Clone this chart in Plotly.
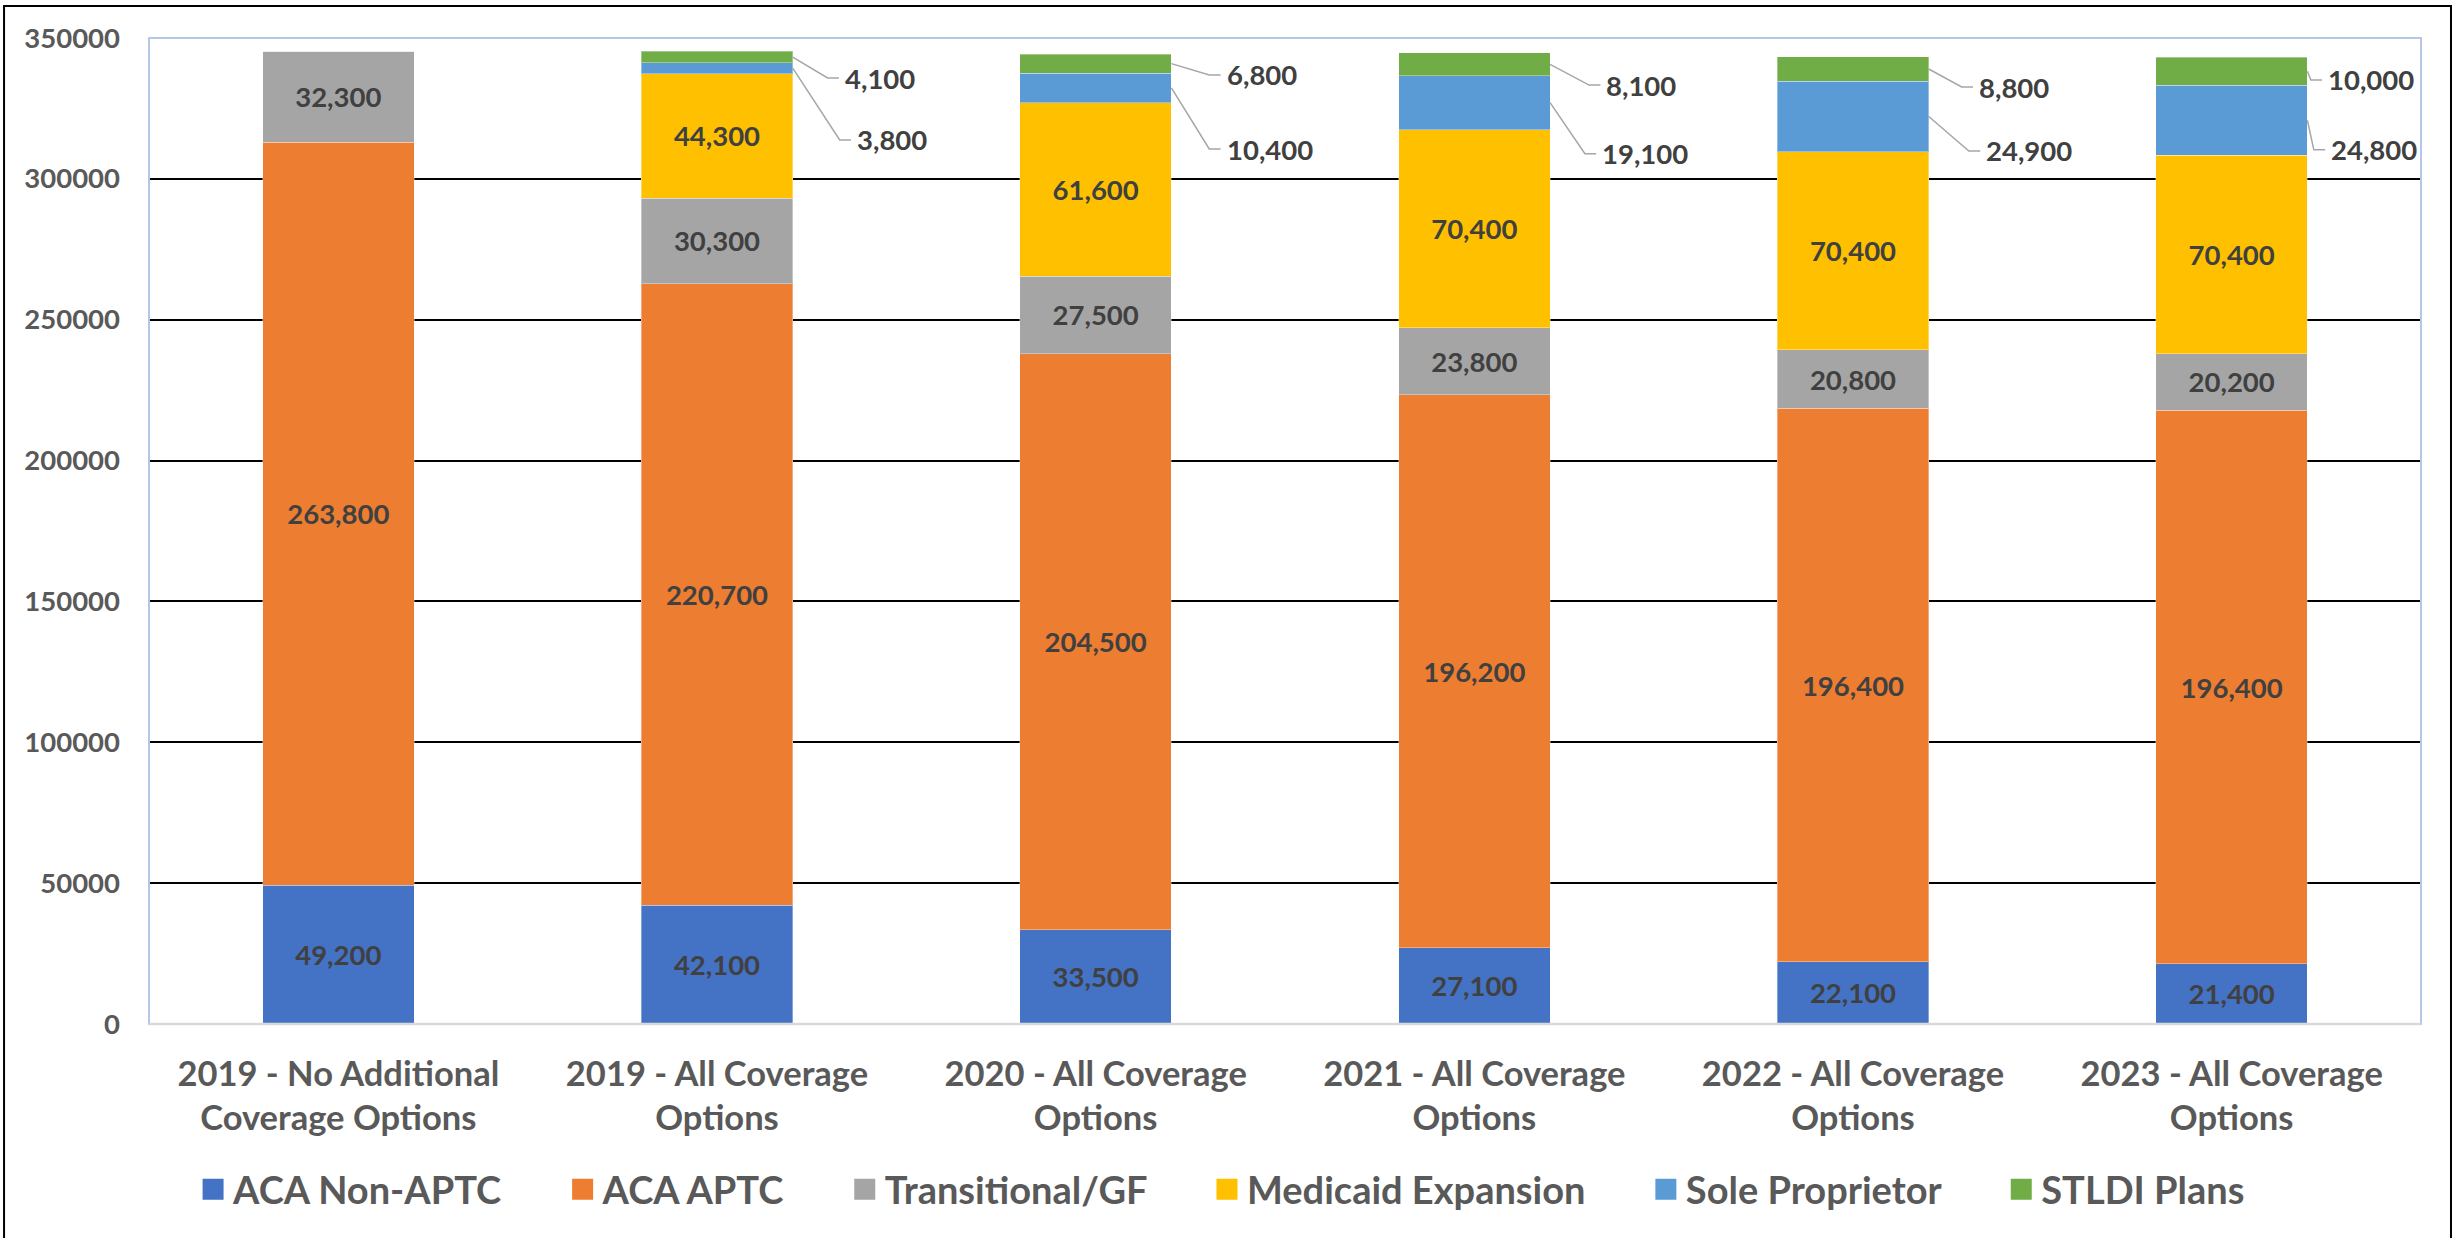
import plotly.graph_objects as go

# ---- data -------------------------------------------------------------
categories = [
    "2019 - No Additional<br>Coverage Options",
    "2019 - All Coverage<br>Options",
    "2020 - All Coverage<br>Options",
    "2021 - All Coverage<br>Options",
    "2022 - All Coverage<br>Options",
    "2023 - All Coverage<br>Options",
]
aca_non_aptc = [49200, 42100, 33500, 27100, 22100, 21400]
aca_aptc = [263800, 220700, 204500, 196200, 196400, 196400]
transitional_gf = [32300, 30300, 27500, 23800, 20800, 20200]
medicaid_expansion = [0, 44300, 61600, 70400, 70400, 70400]
sole_proprietor = [0, 3800, 10400, 19100, 24900, 24800]
stldi_plans = [0, 4100, 6800, 8100, 8800, 10000]
y_ticks = [0, 50000, 100000, 150000, 200000, 250000, 300000, 350000]

series_names = ["ACA Non-APTC", "ACA APTC", "Transitional/GF",
                "Medicaid Expansion", "Sole Proprietor", "STLDI Plans"]
series_values = [aca_non_aptc, aca_aptc, transitional_gf,
                 medicaid_expansion, sole_proprietor, stldi_plans]

# ---- styling ----------------------------------------------------------
colors = ["#4472C4", "#ED7D31", "#A5A5A5", "#FFC000", "#5B9BD5", "#70AD47"]
inside_label = [True, True, True, True, False, False]
FONT = "Lato"
LABEL_COLOR = "#404040"
AXIS_COLOR = "#595959"
BAR_WIDTH = 0.4
LABEL_SIZE = 27.5

# callout placement for the thin top segments (layout only):
# (elbow x-offset from bar edge, label y) for Sole Proprietor / STLDI Plans
callout_sole = [None, (0.124, 313800), (0.100, 310600), (0.092, 308900),
                (0.106, 309900), (0.017, 310300)]
callout_stldi = [None, (0.092, 335800), (0.100, 336900), (0.103, 333300),
                 (0.087, 332600), (0.009, 335100)]
TICK_LEN = 0.03

x_pos = list(range(len(categories)))

fig = go.Figure()

for n, (name, vals, col, inside) in enumerate(zip(series_names, series_values, colors, inside_label)):
    texts = [f"{v:,}" if (inside and v > 0) else "" for v in vals]
    fig.add_trace(go.Bar(
        x=x_pos, y=vals, name=name, width=BAR_WIDTH,
        marker=dict(color=col, line=dict(color="rgba(255,255,255,0.35)", width=1)),
        text=texts, textposition="inside", insidetextanchor="middle",
        textangle=0,
        textfont=dict(family=FONT, size=LABEL_SIZE, color=LABEL_COLOR, weight="bold"),
        legendgroup=name, showlegend=False, hoverinfo="skip",
    ))
    # legend swatch (spacing after each entry except the last)
    pad = "\u00a0" * 6 if n < len(series_names) - 1 else ""
    fig.add_trace(go.Scatter(
        x=[None], y=[None], mode="markers", name=name + pad,
        marker=dict(symbol="square", size=16, color=col, line=dict(color=col, width=5)),
        legendgroup=name, showlegend=True, hoverinfo="skip",
    ))

# leader lines and labels for the small top segments
shapes = []
annotations = []
for i in x_pos:
    base = 0
    for k, vals in enumerate(series_values):
        v = vals[i]
        mid = base + v / 2
        base += v
        if k == 4:
            cfg = callout_sole[i]
        elif k == 5:
            cfg = callout_stldi[i]
        else:
            continue
        if cfg is None or v == 0:
            continue
        dx, ly = cfg
        x0 = i + BAR_WIDTH / 2
        x1 = x0 + dx
        x2 = x1 + TICK_LEN
        shapes.append(dict(
            type="path", xref="x", yref="y",
            path=f"M {x0},{mid} L {x1},{ly} L {x2},{ly}",
            line=dict(color="#A6A6A6", width=1.5), layer="above",
        ))
        annotations.append(dict(
            x=x2, y=ly, xref="x", yref="y", text=f"{v:,}",
            showarrow=False, xanchor="left", yanchor="middle", xshift=4,
            font=dict(family=FONT, size=LABEL_SIZE, color=LABEL_COLOR, weight="bold"),
        ))

# plot-area frame (light blue), category axis line (grey), outer chart frame
shapes += [
    dict(type="rect", xref="paper", yref="paper", x0=0, x1=1, y0=0, y1=1,
         line=dict(color="#B4C7E7", width=2), layer="above"),
    dict(type="line", xref="paper", yref="paper", x0=0, x1=1, y0=0, y1=0,
         line=dict(color="#D9D9D9", width=2.5), layer="above"),
    dict(type="rect", xref="paper", yref="paper",
         x0=-0.0638, x1=1.0132, y0=-0.3, y1=1.0325,
         line=dict(color="#000000", width=2), layer="above"),
]

fig.update_layout(
    width=2458, height=1238,
    margin=dict(l=149, r=37, t=38, b=214),
    barmode="stack",
    plot_bgcolor="white", paper_bgcolor="white",
    font=dict(family=FONT, color=AXIS_COLOR),
    shapes=shapes, annotations=annotations,
    showlegend=True,
    legend=dict(
        orientation="h", x=0.0194, xanchor="left", y=-0.168, yanchor="middle",
        font=dict(family=FONT, size=38, color=AXIS_COLOR, weight="bold"),
        traceorder="normal", bgcolor="rgba(0,0,0,0)",
    ),
    xaxis=dict(
        range=[-0.5, 5.5], tickvals=x_pos, ticktext=categories,
        showgrid=False, zeroline=False, showline=False, ticks="",
        tickfont=dict(family=FONT, size=34.5, color=AXIS_COLOR, weight="bold"),
        ticklabelstandoff=26, fixedrange=True,
    ),
    yaxis=dict(
        range=[0, 350000], tickvals=y_ticks, tickformat="d",
        showgrid=True, gridcolor="#000000", gridwidth=2,
        zeroline=False, showline=False, ticks="",
        tickfont=dict(family=FONT, size=27.5, color=AXIS_COLOR, weight="bold"),
        ticklabelstandoff=28, fixedrange=True,
    ),
)

fig.write_html("out.html")
